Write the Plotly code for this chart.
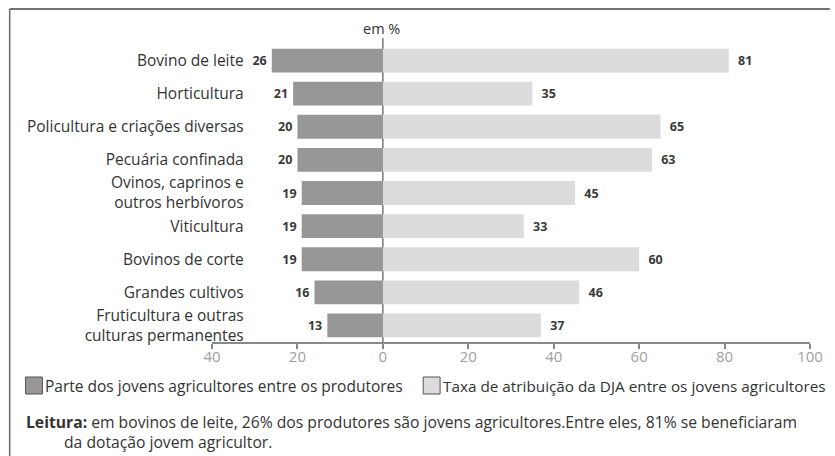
import plotly.graph_objects as go

categories = ["Bovino de leite", "Horticultura", "Policultura e criações diversas",
              "Pecuária confinada", "Ovinos, caprinos e<br>outros herbívoros", "Viticultura",
              "Bovinos de corte", "Grandes cultivos", "Fruticultura e outras<br>culturas permanentes"]
young_share = [26, 21, 20, 20, 19, 19, 19, 16, 13]
dja_rate = [81, 35, 65, 63, 45, 33, 60, 46, 37]
tick_vals = [-40, -20, 0, 20, 40, 60, 80, 100]
tick_text = ["40", "20", "0", "20", "40", "60", "80", "100"]
legend_names = ["Parte dos jovens agricultores entre os produtores",
                "Taxa de atribuição da DJA entre os jovens agricultores"]

W, H = 835, 456
L, R, T, B = 212, 20, 44, 114
PW, PH = W - L - R, H - T - B
FONT = "Open Sans"
DARK, LIGHT = "#979797", "#dcdcdc"

def px(x):
    return (x - L) / PW

def py(y):
    return (H - B - y) / PH

fig = go.Figure()
fig.add_trace(go.Bar(
    y=categories, x=[-v for v in young_share], orientation="h",
    marker=dict(color=DARK, line=dict(width=0)), width=0.72,
    text=[str(v) for v in young_share], textposition="outside",
    texttemplate="%{text}\u2009",
    textfont=dict(family=FONT, size=12.5, color="#3a3a3a", weight="bold"),
    cliponaxis=False, name=legend_names[0], showlegend=False))
fig.add_trace(go.Bar(
    y=categories, x=dja_rate, orientation="h",
    marker=dict(color=LIGHT, line=dict(width=0)), width=0.72,
    text=[str(v) for v in dja_rate], textposition="outside",
    texttemplate="\u2002%{text}",
    textfont=dict(family=FONT, size=12.5, color="#3a3a3a", weight="bold"),
    cliponaxis=False, name=legend_names[1], showlegend=False))

shapes = [
    dict(type="line", xref="x", yref="paper", x0=0, x1=0, y0=0, y1=py(38),
         line=dict(color="#777777", width=1.5), layer="below"),
    dict(type="line", xref="paper", yref="paper", x0=px(8), x1=px(835), y0=py(9), y1=py(9),
         line=dict(color="#444", width=1.5)),
    dict(type="line", xref="paper", yref="paper", x0=px(8), x1=px(8), y0=py(9), y1=py(456),
         line=dict(color="#6a6a6a", width=1.5)),
    dict(type="rect", xref="paper", yref="paper", x0=px(24), x1=px(41), y0=py(377), y1=py(394),
         fillcolor=DARK, line=dict(color="#555", width=1)),
    dict(type="rect", xref="paper", yref="paper", x0=px(425), x1=px(442), y0=py(377), y1=py(394),
         fillcolor=LIGHT, line=dict(color="#555", width=1)),
]

annotations = [
    dict(text="em %", x=px(383), y=py(28), xref="paper", yref="paper", showarrow=False,
         xanchor="center", yanchor="middle", font=dict(family=FONT, size=14.5, color="#333")),
    dict(text=legend_names[0], x=px(42), y=py(386), xref="paper", yref="paper", showarrow=False,
         xanchor="left", yanchor="middle", font=dict(family=FONT, size=15.5, color="#333")),
    dict(text=legend_names[1], x=px(443), y=py(386), xref="paper", yref="paper", showarrow=False,
         xanchor="left", yanchor="middle", font=dict(family=FONT, size=15.3, color="#333")),
    dict(text="<b>Leitura:</b> em bovinos de leite, 26% dos produtores são jovens agricultores.Entre eles, 81% se beneficiaram",
         x=px(22), y=py(422), xref="paper", yref="paper", showarrow=False,
         xanchor="left", yanchor="middle", font=dict(family=FONT, size=15.7, color="#333")),
    dict(text="da dotação jovem agricultor.",
         x=px(61), y=py(442), xref="paper", yref="paper", showarrow=False,
         xanchor="left", yanchor="middle", font=dict(family=FONT, size=15.7, color="#333")),
]

fig.update_layout(
    width=W, height=H, margin=dict(l=L, r=R, t=T, b=B, pad=0),
    paper_bgcolor="white", plot_bgcolor="white",
    barmode="overlay", showlegend=False,
    font=dict(family=FONT, color="#333"),
    xaxis=dict(range=[-40, 100], tickvals=tick_vals, ticktext=tick_text,
               showgrid=False, zeroline=False, showline=True, linecolor="#8a8a8a", linewidth=2,
               ticks="outside", ticklen=5, tickcolor="#8a8a8a", tickwidth=1.5,
               ticklabelstandoff=-5,
               tickfont=dict(family=FONT, size=15, color="#a0a0a0"), fixedrange=True),
    yaxis=dict(categoryorder="array", categoryarray=categories, autorange="reversed",
               showgrid=False, zeroline=False, showline=False, ticks="",
               anchor="free", position=px(244),
               tickfont=dict(family=FONT, size=15.5, color="#333"), fixedrange=True),
    shapes=shapes, annotations=annotations,
)

fig.write_html("out.html")
